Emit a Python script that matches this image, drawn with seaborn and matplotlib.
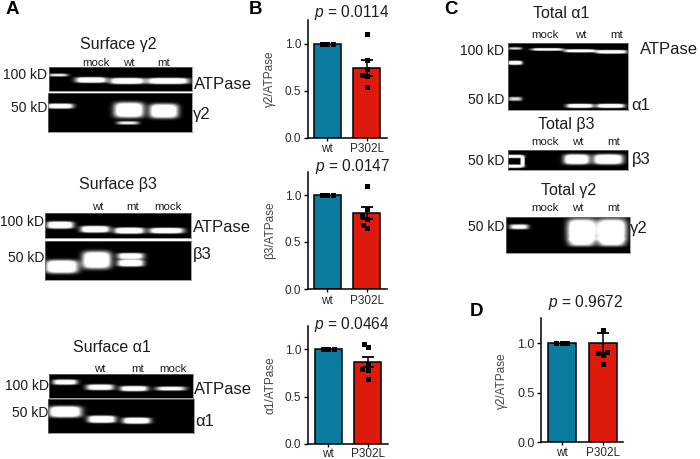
import numpy as np
import pandas as pd
import matplotlib
matplotlib.use("Agg")
import matplotlib.pyplot as plt
import seaborn as sns

W, H = 700, 459
sns.set_theme(style="ticks")
plt.rcParams["font.family"] = ["Liberation Sans", "DejaVu Sans"]
plt.rcParams["mathtext.fontset"] = "custom"
plt.rcParams["mathtext.it"] = "Liberation Sans:italic"
plt.rcParams["mathtext.rm"] = "Liberation Sans"
TXT = "#1c1c1c"

# ---- Bar chart data
groups = ["wt", "P302L"]
wt_points = [1.0, 1.0, 1.0]
g2_points = [1.10, 0.83, 0.73, 0.67, 0.66, 0.535]
b3_points = [1.10, 0.85, 0.78, 0.75, 0.68, 0.645]
a1_points = [1.06, 1.02, 0.85, 0.79, 0.78, 0.69]
d_points = [1.13, 0.91, 0.90, 0.88, 0.79]
g2_heights = [1.0, 0.74]
b3_heights = [1.0, 0.81]
a1_heights = [1.0, 0.865]
d_heights = [1.0, 1.0]
g2_err = [0.0, 0.085]
b3_err = [0.0, 0.06]
a1_err = [0.0, 0.055]
d_err = [0.0, 0.10]
bar_colors = ["#0B7CA0", "#DE1A0D"]

# ---- Blot bands: (centre x, centre y, width, height, intensity)
a_g2_top = [(58, 75, 20, 3, .6), (91, 80, 30, 5.5, 1), (127, 81, 33, 6, 1), (168, 81, 41, 6, 1)]
a_g2_bot = [(60, 106, 26, 5, .9), (129, 110, 29, 15, 1), (128, 123, 22, 3.5, .6), (164, 111, 28, 14, 1)]
a_b3_top = [(60, 225, 26, 7, 1), (95, 229.3, 28, 6.5, 1), (129.3, 230.7, 29, 6, 1), (166.7, 230.7, 33, 5.5, 1)]
a_b3_bot = [(61.7, 266.7, 32, 13, 1), (96.7, 260, 28, 17, 1), (130.7, 256, 26, 6, .85), (130.7, 263, 26, 7, .9)]
a_a1_top = [(65, 382.7, 24, 5, .85), (100, 387.7, 27, 5.5, .85), (134, 389, 27, 5, .9), (171, 389, 30, 4, .7)]
a_a1_bot = [(65, 411.7, 32, 11, 1), (101.7, 419.3, 27, 7, 1), (136.7, 420.7, 27, 6, 1)]
c_a1 = [(515, 48.3, 14, 2.5, .55), (515, 62.7, 14, 4, .95), (515, 99, 14, 4, .55),
        (547.3, 49.3, 30, 2.5, 1), (580, 50.7, 30, 3, 1), (611.7, 51.7, 30, 3.5, 1),
        (580, 106, 26, 4, 1), (610.7, 106, 27, 4, 1)]
c_b3 = [(512, 156.3, 22, 3.2, 1), (512, 166.3, 22, 3.2, 1), (522.5, 161.3, 4, 9, 1),
        (576.7, 159.3, 25, 10, 1), (608.3, 159.3, 29, 10, 1)]
c_g2 = [(519, 226.7, 19, 5, .7), (581.7, 230, 28, 22, 1), (611.7, 230, 29, 22, 1),
        (581.7, 242, 26, 9, .6), (611.7, 242, 27, 9, .6)]

blots = [((49, 67, 192, 91), a_g2_top), ((48, 93, 192, 132), a_g2_bot),
         ((45, 213, 191, 238), a_b3_top), ((45, 241, 191, 280), a_b3_bot),
         ((49, 374, 193, 398), a_a1_top), ((48, 399, 194, 433), a_a1_bot),
         ((508, 43, 628, 110), c_a1), ((508, 150, 628, 170), c_b3), ((506, 217, 630, 253), c_g2)]

fig = plt.figure(figsize=(W / 100, H / 100), dpi=100, facecolor="white")


def put(x, y, s, size, ha="center", va="center", **kw):
    kw.setdefault("color", TXT)
    fig.text(x / W, 1 - y / H, s, fontsize=size, ha=ha, va=va, **kw)


def add_blot(box, bands):
    x0, y0, x1, y1 = box
    ax = fig.add_axes([x0 / W, 1 - y1 / H, (x1 - x0) / W, (y1 - y0) / H])
    xs = np.linspace(x0, x1, int((x1 - x0) * 3))
    ys = np.linspace(y0, y1, int((y1 - y0) * 3))
    X, Y = np.meshgrid(xs, ys)
    img = np.zeros_like(X)
    for cx, cy, w, h, a in bands:
        img = img + a * np.exp(-(np.abs(X - cx) / (w / 2)) ** 4 - (np.abs(Y - cy) / (h / 2)) ** 4)
    img = np.clip(img * 1.6, 0, 1)
    ax.imshow(img, cmap="gray", vmin=0, vmax=1, aspect="auto", interpolation="bilinear",
              extent=(x0, x1, y1, y0))
    ax.set_xticks([])
    ax.set_yticks([])
    for s in ax.spines.values():
        s.set_color("#777777")
        s.set_linewidth(0.5)


for box, bands in blots:
    add_blot(box, bands)


def add_bars(left, right, top, y0, y1, cwt, cmt, heights, errs, points, ylabel, label_x, ptitle, title_xy, width,
             tick_size=8.5, xpad=1.5):
    ax = fig.add_axes([left / W, 1 - y0 / H, (right - left) / W, (y0 - top) / H])
    unit = cmt - cwt
    df = pd.DataFrame({"group": [groups[0]] * len(wt_points) + [groups[1]] * len(points),
                       "value": list(wt_points) + list(points)})
    sns.barplot(x=groups, y=heights, hue=groups, palette=bar_colors, order=groups, hue_order=groups,
                width=width, saturation=1, edgecolor="black", linewidth=1.1, errorbar=None, legend=False, ax=ax, zorder=2)
    sns.swarmplot(data=df, x="group", y="value", order=groups, marker="s", size=3.6, color="black",
                  ax=ax, zorder=5, warn_thresh=1)
    ax.errorbar([1], [heights[1]], yerr=[errs[1]], color="black", lw=1.1, capsize=4.4, capthick=1.3, zorder=4, ls="none")
    ax.set_xlim((left - cwt) / unit, (right - cwt) / unit)
    ax.set_ylim(0, (y0 - top) / (y0 - y1))
    ax.set_yticks([0, 0.5, 1.0])
    ax.set_yticklabels(["0.0", "0.5", "1.0"])
    ax.set_xlabel("")
    ax.set_ylabel(ylabel, fontsize=8.5, color="#444444")
    ax.yaxis.set_label_coords((label_x - left) / (right - left), 0.5)
    ax.tick_params(axis="both", labelsize=tick_size, length=3, width=1, pad=1.5, colors="black", labelcolor="#2a2a2a")
    ax.tick_params(axis="x", labelsize=min(tick_size, 8.5), length=2.5, pad=xpad)
    ax.patch.set_alpha(0)
    sns.despine(ax=ax)
    for s in ("left", "bottom"):
        ax.spines[s].set_linewidth(1.1)
        ax.spines[s].set_color("black")
    put(title_xy[0], title_xy[1], ptitle, 11.2)


add_bars(307.5, 387, 20, 137.7, 43.7, 327.3, 366.7, g2_heights, g2_err, g2_points,
         "γ2/ATPase", 276, "$p$ = 0.0114", (352, 12.7), 0.68)
add_bars(307.5, 387, 171.7, 289, 195, 327.3, 366.7, b3_heights, b3_err, b3_points,
         "β3/ATPase", 276, "$p$ = 0.0147", (352.8, 166.7), 0.68)
add_bars(307.7, 387.7, 325.7, 444, 349.3, 328.3, 367.5, a1_heights, a1_err, a1_points,
         "α1/ATPase", 276, "$p$ = 0.0464", (352, 325), 0.68, 8.5, 0.3)
add_bars(541, 623.3, 318.3, 442.3, 343.3, 561.7, 603, d_heights, d_err, d_points,
         "γ2/ATPase", 508, "$p$ = 0.9672", (585.3, 303), 0.67, 9, 1.0)

# ---- Panel letters
for x, y, s in [(12, 9, "A"), (256, 9, "B"), (451, 10, "C"), (476.5, 311, "D")]:
    put(x, y, s, 13.5, fontweight="bold", color="black")

# ---- Blot text
for x, y, s in [(118, 44, "Surface γ2"), (118, 185, "Surface β3"), (112, 348, "Surface α1"),
                (560.7, 13, "Total α1"), (566.7, 125, "Total β3"), (568.7, 190, "Total γ2")]:
    put(x, y, s, 11.5)
for x, y, s in [(96, 63, "mock"), (129, 63, "wt"), (164, 63, "mt"),
                (98, 207, "wt"), (133, 207, "mt"), (168, 207, "mock"),
                (100, 369, "wt"), (138, 369, "mt"), (173, 369, "mock"),
                (544.7, 35, "mock"), (580.7, 35, "wt"), (617, 35, "mt"),
                (544.7, 141.7, "mock"), (577.7, 141.7, "wt"), (614, 141.7, "mt"),
                (544.7, 208, "mock"), (577.7, 208, "wt"), (614, 208, "mt")]:
    put(x, y, s, 8.2)
for x, y, s in [(47, 75, "100 kD"), (47, 108, "50 kD"), (44, 222, "100 kD"), (44, 258, "50 kD"),
                (48.7, 386, "100 kD"), (48.7, 413, "50 kD"), (504, 51, "100 kD"), (504, 100, "50 kD"),
                (504, 160.7, "50 kD"), (504, 227, "50 kD")]:
    put(x, y, s, 10, ha="right")
for x, y, s in [(194, 85, "ATPase"), (193, 115, "γ2"), (193, 228, "ATPase"), (193, 254, "β3"),
                (194, 389, "ATPase"), (195, 421, "α1"), (640, 49, "ATPase"), (631.7, 105, "α1"),
                (631.7, 159.3, "β3"), (630, 229, "γ2")]:
    put(x, y, s, 12, ha="left")

fig.savefig("out.png", dpi=100, facecolor="white")
